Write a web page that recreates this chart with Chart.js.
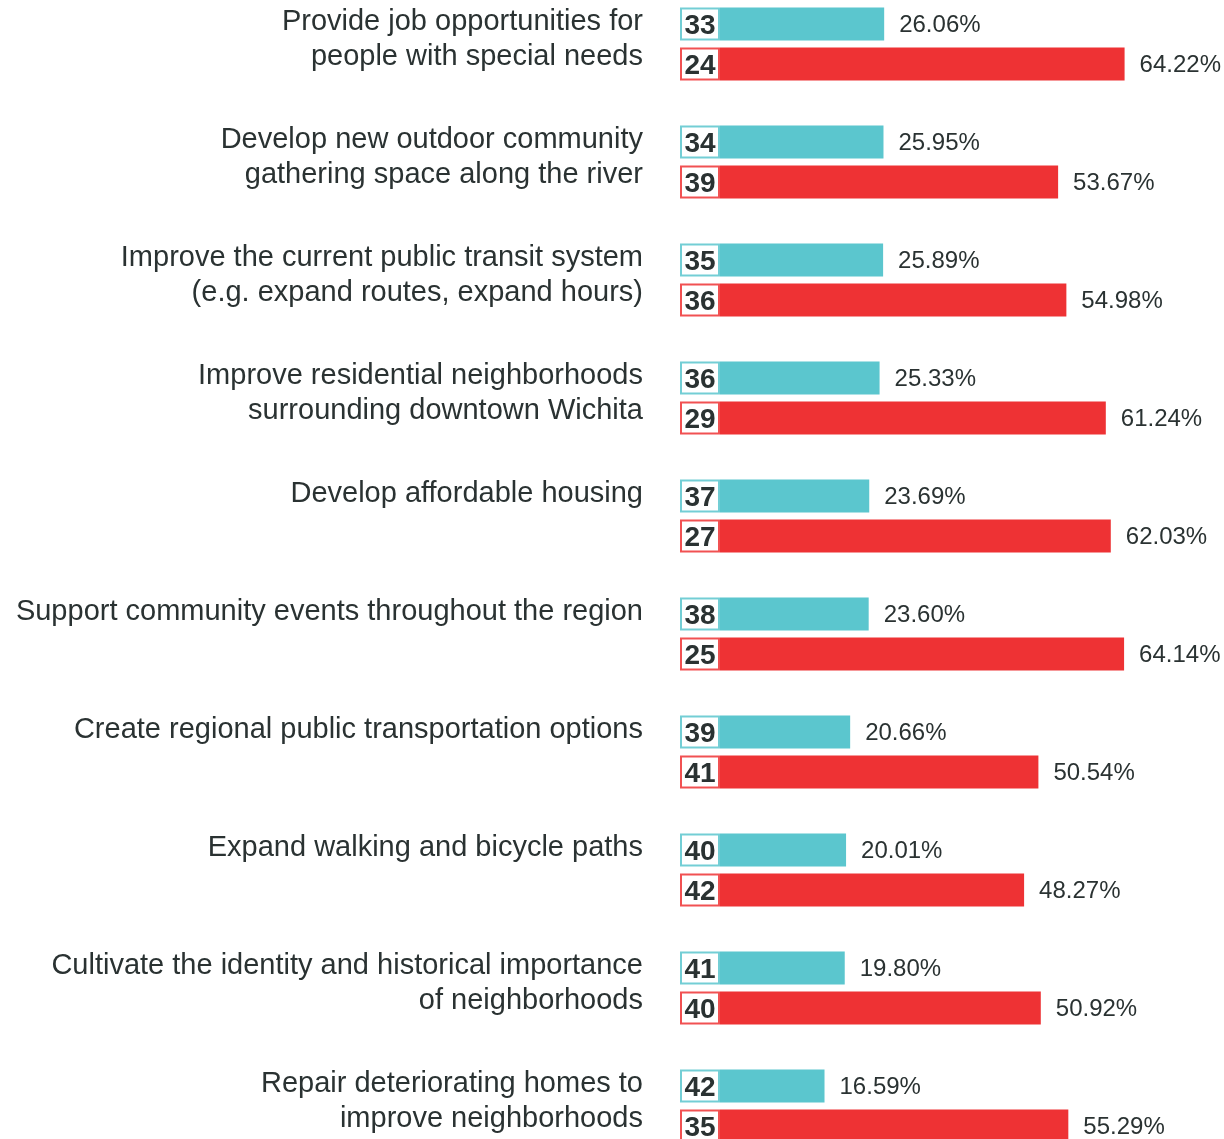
<!DOCTYPE html>
<html>
<head>
<meta charset="utf-8">
<script src="https://cdn.jsdelivr.net/npm/chart.js@4"></script>
<style>
  html, body { margin: 0; padding: 0; background: #fff; overflow: hidden; }
  body { width: 1224px; height: 1139px; position: relative; }
  #wrap { position: absolute; left: 0; top: -15px; width: 1224px; height: 1180px; }
</style>
</head>
<body>
<div id="wrap"><canvas id="myChart"></canvas></div>
<script>
// chart values
var categories = [
    ['Provide job opportunities for', 'people with special needs'],
    ['Develop new outdoor community', 'gathering space along the river'],
    ['Improve the current public transit system', '(e.g. expand routes, expand hours)'],
    ['Improve residential neighborhoods', 'surrounding downtown Wichita'],
    ['Develop affordable housing'],
    ['Support community events throughout the region'],
    ['Create regional public transportation options'],
    ['Expand walking and bicycle paths'],
    ['Cultivate the identity and historical importance', 'of neighborhoods'],
    ['Repair deteriorating homes to', 'improve neighborhoods']
];
var tealRanks = [33, 34, 35, 36, 37, 38, 39, 40, 41, 42];
var tealValues = [26.06, 25.95, 25.89, 25.33, 23.69, 23.60, 20.66, 20.01, 19.80, 16.59];
var redRanks = [24, 39, 36, 29, 27, 25, 41, 42, 40, 35];
var redValues = [64.22, 53.67, 54.98, 61.24, 62.03, 64.14, 50.54, 48.27, 50.92, 55.29];

var TEAL = '#5bc6ce';
var RED = '#ee3234';
var TEXT = '#2a3232';
var FONT = 'Arial, "Liberation Sans", sans-serif';

// labels, rank boxes and value labels
var extrasPlugin = {
    id: 'extras',
    afterDatasetsDraw: function (chart) {
        var ctx = chart.ctx;
        var xScale = chart.scales.x;
        var ranks = [tealRanks, redRanks];
        var values = [tealValues, redValues];
        var borders = ['rgba(91,198,206,0.85)', 'rgba(238,50,52,0.85)'];
        ctx.save();

        // category labels on the left
        ctx.fillStyle = TEXT;
        ctx.font = '29px ' + FONT;
        ctx.textAlign = 'right';
        ctx.textBaseline = 'middle';
        var tealMeta = chart.getDatasetMeta(0);
        categories.forEach(function (lines, i) {
            var top = tealMeta.data[i].y - 2;
            lines.forEach(function (line, k) {
                ctx.fillText(line, 643, top + k * 35);
            });
        });

        [0, 1].forEach(function (d) {
            var meta = chart.getDatasetMeta(d);
            meta.data.forEach(function (bar, i) {
                var h = bar.height;
                var top = bar.y - h / 2;
                var boxL = xScale.left - 40;
                ctx.fillStyle = '#fff';
                ctx.fillRect(boxL, top, 40, h);
                ctx.strokeStyle = borders[d];
                ctx.lineWidth = 2;
                ctx.strokeRect(boxL + 1, top + 1, 38, h - 2);
                ctx.fillStyle = TEXT;
                ctx.font = 'bold 28px ' + FONT;
                ctx.textAlign = 'center';
                ctx.fillText(String(ranks[d][i]), boxL + 20, bar.y + 2);

                ctx.font = '24px ' + FONT;
                ctx.textAlign = 'left';
                ctx.fillText(values[d][i].toFixed(2) + '%', bar.x + 15, bar.y + 1);
            });
        });
        ctx.restore();
    }
};

var data = {
    labels: categories.map(function (c) { return c.join(' '); }),
    datasets: [{
        label: 'Rank A',
        data: tealValues,
        backgroundColor: TEAL,
        categoryPercentage: 0.678,
        barPercentage: 0.825
    }, {
        label: 'Rank B',
        data: redValues,
        backgroundColor: RED,
        categoryPercentage: 0.678,
        barPercentage: 0.825
    }]
};

var config = {
    type: 'bar',
    data: data,
    options: {
        indexAxis: 'y',
        responsive: true,
        maintainAspectRatio: false,
        animation: false,
        layout: { padding: { left: 720, right: 0, top: 0, bottom: 0 } },
        plugins: {
            legend: { display: false },
            tooltip: { enabled: false }
        },
        scales: {
            x: { display: false, min: 0, max: 80 },
            y: { display: false }
        }
    },
    plugins: [extrasPlugin]
};

var myChart = new Chart(document.getElementById('myChart'), config);
</script>
</body>
</html>
